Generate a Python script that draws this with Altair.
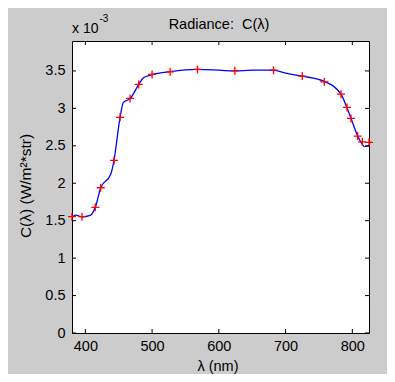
import altair as alt
import pandas as pd

# Marker samples (lambda in nm, C in units of 1e-3 W/m^2*str)
lam_pts = [380, 395, 415, 423, 443, 452, 467, 480, 500, 527, 568, 624, 682,
           725, 758, 783, 792, 798, 808, 815, 825]
c_pts = [1.553, 1.553, 1.678, 1.94, 2.305, 2.88, 3.133, 3.32, 3.454, 3.489,
         3.52, 3.502, 3.511, 3.431, 3.355, 3.19, 3.013, 2.866, 2.63, 2.554, 2.546]

# Blue curve
line_lam = [380, 386, 395, 407, 415, 423, 438, 443, 452, 457, 467, 480, 487,
            500, 527, 568, 600, 624, 650, 682, 700, 725, 758, 783, 792, 798,
            808, 815, 818, 825]
line_c = [1.55, 1.575, 1.55, 1.57, 1.68, 1.94, 2.12, 2.31, 2.88, 3.08, 3.13,
          3.32, 3.41, 3.45, 3.49, 3.52, 3.51, 3.50, 3.51, 3.51, 3.47, 3.43,
          3.36, 3.19, 3.01, 2.87, 2.63, 2.52, 2.49, 2.50]

x_ticks = [400, 500, 600, 700, 800]
y_ticks = [0, 0.5, 1, 1.5, 2, 2.5, 3, 3.5]

title_text = "Radiance:\u00a0 C(\u03bb)"
xlabel_text = "\u03bb (nm)"
ylabel_text = "C(\u03bb) (W/m\u00b2*str)"
exp_base = "x 10"
exp_pow = "-3"

W, H = 297, 292
FONT = "Liberation Sans"
FS = 14.5

xscale = alt.Scale(domain=[380, 825], nice=False, zero=False)
yscale = alt.Scale(domain=[0, 3.9], nice=False, zero=False)
xaxis = alt.Axis(values=x_ticks, ticks=False, domain=False, grid=False,
                 labelPadding=6, labelFontSize=FS, labelFont=FONT,
                 labelColor="#000000", format="d", labelFlush=False)
yaxis = alt.Axis(values=y_ticks, ticks=False, domain=False, grid=False,
                 labelPadding=7, labelFontSize=FS, labelFont=FONT,
                 labelColor="#000000", format="~g", labelFlush=False)

line_df = pd.DataFrame({"lam": line_lam, "c": line_c})
pts_df = pd.DataFrame({"lam": lam_pts, "c": c_pts})
xt_df = pd.DataFrame({"lam": x_ticks})
yt_df = pd.DataFrame({"c": y_ticks})

X = alt.X("lam:Q", scale=xscale, axis=xaxis, title=None)
Y = alt.Y("c:Q", scale=yscale, axis=yaxis, title=None)

line = alt.Chart(line_df).mark_line(color="#0000ff", strokeWidth=1.3,
                                    interpolate="monotone").encode(x=X, y=Y)
pts = alt.Chart(pts_df).mark_point(shape="M-1,0L1,0M0,-1L0,1", size=64,
                                   color="#ff0000", strokeWidth=1.3,
                                   filled=False, opacity=1).encode(x=X, y=Y)

tick_style = dict(color="#000000", strokeWidth=1)
xt_bot = alt.Chart(xt_df).mark_rule(**tick_style).encode(
    x=X, y=alt.value(H), y2=alt.value(H - 4))
xt_top = alt.Chart(xt_df).mark_rule(**tick_style).encode(
    x=X, y=alt.value(0), y2=alt.value(4))
yt_left = alt.Chart(yt_df).mark_rule(**tick_style).encode(
    y=Y, x=alt.value(0), x2=alt.value(4))
yt_right = alt.Chart(yt_df).mark_rule(**tick_style).encode(
    y=Y, x=alt.value(W), x2=alt.value(W - 4))

def txt(s, x, y, size=FS, align="center", angle=0, baseline="alphabetic"):
    return alt.Chart(pd.DataFrame({"t": [s]})).mark_text(
        font=FONT, fontSize=size, color="#000000", align=align,
        baseline=baseline, angle=angle).encode(
        text="t:N", x=alt.value(x), y=alt.value(y))

title = txt(title_text, 147, -12.5)
exp1 = txt(exp_base, 0, -8.5, size=14, align="left")
exp2 = txt(exp_pow, 27.5, -19, size=10, align="left")
xlab = txt(xlabel_text, 146, 330)
ylab = txt(ylabel_text, -41, 145, size=15.5, angle=270)

chart = alt.layer(line, pts, xt_bot, xt_top, yt_left, yt_right,
                  title, exp1, exp2, xlab, ylab).properties(
    width=W, height=H,
    autosize=alt.AutoSizeParams(type="none"),
    padding={"left": 64, "top": 33, "right": 18, "bottom": 41},
    background="#cccccc",
).configure_view(stroke="#000000", strokeWidth=1, fill="#ffffff")

chart.save("out.html", embed_options={"renderer": "svg", "actions": False})
